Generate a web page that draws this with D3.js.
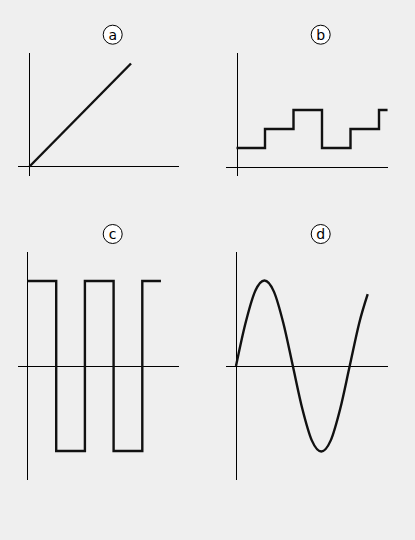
<!DOCTYPE html>
<html><head><meta charset="utf-8">
<script src="https://cdn.jsdelivr.net/npm/d3@7"></script>
<style>html,body{margin:0;padding:0;background:#efefef;}svg{display:block;}</style>
</head><body>
<svg id="c" width="415" height="540"></svg>
<script>
// Panel labels
const panelLabels = ["a", "b", "c", "d"];
// (a) ramp
const rampT = [0, 1];
const rampV = [0, 1];
// (b) staircase (step-after)
const stairT = [0, 1, 2, 3, 4, 5, 5.3];
const stairV = [1, 2, 3, 1, 2, 3, 3];
// (c) square wave (step-after)
const squareT = [0, 1, 2, 3, 4, 4.65];
const squareV = [1, -1, 1, -1, 1, 1];
// (d) sine wave, read every 30 degrees
const sineT = [0, 30, 60, 90, 120, 150, 180, 210, 240, 270, 300, 330, 360, 390, 417];
const sineV = [0, 0.5, 0.87, 1, 0.87, 0.5, 0, -0.5, -0.87, -1, -0.87, -0.5, 0, 0.5, 0.84];

const svg = d3.select("#c");

const panels = [
  {label: panelLabels[0], lx: 112.7, ly: 34.7, ox: 29.5, oy: 166.5, axL: 18, axR: 179, axT: 53, axB: 176,
   x: d3.scaleLinear().domain([0, 1]).range([29.5, 131]),
   y: d3.scaleLinear().domain([0, 1]).range([166.5, 63.5]),
   t: rampT, v: rampV, curve: d3.curveLinear},
  {label: panelLabels[1], lx: 320.7, ly: 34.7, ox: 237.5, oy: 167.5, axL: 226, axR: 388, axT: 53, axB: 176,
   x: d3.scaleLinear().domain([0, 1]).range([236.5, 265]),
   y: d3.scaleLinear().domain([0, 1]).range([167, 148]),
   t: stairT, v: stairV, curve: d3.curveStepAfter},
  {label: panelLabels[2], lx: 112.7, ly: 234, ox: 27.5, oy: 366.5, axL: 18, axR: 179, axT: 252, axB: 480,
   x: d3.scaleLinear().domain([0, 1]).range([27.5, 56.2]),
   y: d3.scaleLinear().domain([-1, 1]).range([451, 281]),
   t: squareT, v: squareV, curve: d3.curveStepAfter},
  {label: panelLabels[3], lx: 320.7, ly: 234, ox: 236.5, oy: 366.5, axL: 226, axR: 388, axT: 252, axB: 480,
   x: d3.scaleLinear().domain([0, 360]).range([236, 349.7]),
   y: d3.scaleLinear().domain([-1, 1]).range([451.5, 280.5]),
   t: sineT, v: sineV, curve: d3.curveCardinal},
];

panels.forEach(p => {
  const g = svg.append("g");
  // axes
  g.append("line").attr("x1", p.axL).attr("x2", p.axR).attr("y1", p.oy).attr("y2", p.oy)
    .attr("stroke", "#000").attr("stroke-width", 1);
  g.append("line").attr("x1", p.ox).attr("x2", p.ox).attr("y1", p.axT).attr("y2", p.axB)
    .attr("stroke", "#000").attr("stroke-width", 1);
  // series
  const pts = p.t.map((t, i) => [t, p.v[i]]);
  const line = d3.line().x(d => p.x(d[0])).y(d => p.y(d[1])).curve(p.curve);
  g.append("path").attr("d", line(pts)).attr("fill", "none")
    .attr("stroke", "#111").attr("stroke-width", 2.4).attr("stroke-linejoin", "miter");
  // label
  g.append("circle").attr("cx", p.lx).attr("cy", p.ly).attr("r", 9.5)
    .attr("fill", "#fff").attr("stroke", "#000").attr("stroke-width", 1);
  g.append("text").attr("x", p.lx).attr("y", p.ly).attr("text-anchor", "middle")
    .attr("dominant-baseline", "central").attr("font-family", "DejaVu Sans, sans-serif")
    .attr("font-size", 14).attr("fill", "#000").text(p.label);
});
</script>
</body></html>
